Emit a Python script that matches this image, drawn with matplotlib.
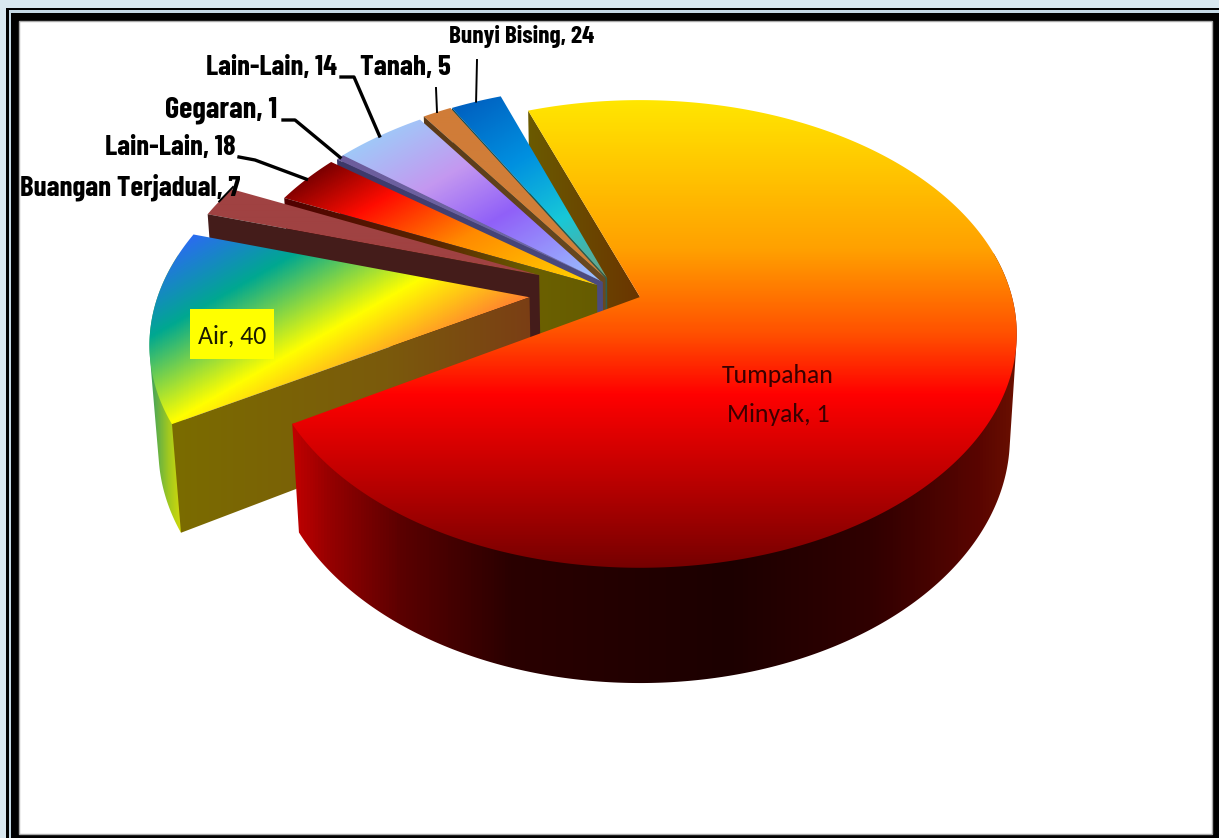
import numpy as np
import matplotlib
matplotlib.use('Agg')
from matplotlib import pyplot as plt
from matplotlib.colors import LinearSegmentedColormap
from matplotlib.patches import Polygon, Rectangle

LABEL_FONT = ['Barlow Condensed', 'Roboto Condensed', 'Liberation Sans Narrow', 'Lato', 'DejaVu Sans']
BODY_FONT = ['Carlito', 'Roboto Condensed', 'Lato', 'DejaVu Sans']

# data: clockwise from the back edge of the big slice
categories = ['Tumpahan Minyak', 'Air', 'Buangan Terjadual', 'Lain-Lain 18',
              'Gegaran', 'Lain-Lain 14', 'Tanah', 'Bunyi Bising']
shares = [72.1, 13.2, 2.14, 3.47, 0.42, 4.67, 1.47, 2.58]
labels = ['Tumpahan\nMinyak, 1', 'Air, 40', 'Buangan Terjadual, 7', 'Lain-Lain, 18',
          'Gegaran, 1', 'Lain-Lain, 14', 'Tanah, 5', 'Bunyi Bising, 24']

# look of the pie
start_angle = 249.8
explode = [0.095, 0.21, 0.197, 0.034, 0.037, 0.037, 0.052, 0.052]
explode_dir = [19.5, 171, 199.5, 218, 252, 247, 265, 270]
tops = [
    ((0, 1), [(0, '#FFE600'), (0.32, '#FFA000'), (0.5, '#FF5000'), (0.63, '#FF0000'), (1, '#760000')]),
    ((0.5, 0.87), [(0, '#2A6CF0'), (0.3, '#00A890'), (0.68, '#FFFF00'), (1, '#FF7F30')]),
    ((0, 1), [(0, '#A04242'), (1, '#A04242')]),
    ((0.5, 0.85), [(0, '#7A0000'), (0.24, '#FF0C00'), (0.55, '#FF8A00'), (1, '#FFD800')]),
    ((0, 1), [(0, '#6C5C9C'), (1, '#6C6CA8')]),
    ((0.5, 0.85), [(0, '#A0C8F8'), (0.29, '#C498F0'), (0.55, '#9060F8'), (1, '#9CC8FF')]),
    ((0, 1), [(0, '#D07C38'), (1, '#D08038')]),
    ((0.5, 0.85), [(0, '#0060C0'), (0.35, '#0090E0'), (0.67, '#18C8D8'), (1, '#70A080')]),
]
faces = [
    ((1, 0), [(0, '#6B5A00'), (1, '#6A3500')]),
    ((1, 0), [(0, '#7B6C00'), (0.6, '#7A5A0C'), (1, '#7A3E15')]),
    ((1, 0), [(0, '#451C1A'), (1, '#451C1A')]),
    ((1, 0), [(0, '#500000'), (0.5, '#5A2800'), (0.8, '#6B6000'), (1, '#665C00')]),
    ((1, 0), [(0, '#3C3868'), (1, '#4C4C80')]),
    ((1, 0), [(0, '#4A3A70'), (1, '#5A5A90')]),
    ((1, 0), [(0, '#5A3A18'), (1, '#6A4A20')]),
    ((1, 0), [(0, '#004A60'), (1, '#306050')]),
]
rims = [
    ((1, 0), [(0, '#C00000'), (0.05, '#950000'), (0.15, '#5A0000'), (0.3, '#2A0000'),
              (0.6, '#1C0000'), (0.8, '#300000'), (0.95, '#5A0500'), (1, '#6A1000')]),
    ((1, 0), [(0, '#3AA060'), (0.5, '#A0C820'), (1, '#E8E000')]),
    ((1, 0), [(0, '#451C1A'), (1, '#451C1A')]),
    ((1, 0), [(0, '#500000'), (1, '#500000')]),
    ((1, 0), [(0, '#3C3868'), (1, '#3C3868')]),
    ((1, 0), [(0, '#4A3A70'), (1, '#4A3A70')]),
    ((1, 0), [(0, '#5A3A18'), (1, '#5A3A18')]),
    ((1, 0), [(0, '#004A60'), (1, '#004A60')]),
]
# label anchor, then elbow of the leader line (pixels of the figure)
leaders = {
    2: ((233, 187), None),
    3: ((239, 157), (255, 160)),
    4: ((283, 120), (295, 120)),
    5: ((341, 77), (354, 77)),
    6: ((436, 88), None),
    7: ((477, 60), None),
}
label_pos = {
    2: (130, 187, 20.9), 3: (170, 148, 20.7), 4: (221, 110, 21.8),
    5: (272, 67, 20.6), 6: (405, 68, 21.1), 7: (522, 37, 18.2),
}

W, H = 1219, 838
CX, CY, RX, RY = 640, 297, 372, 228
TILT, SHRINK, DEPTH = 0.158, 0.018, 104


def project(c, s, h=0.0):
    w = 1 - TILT * s + SHRINK * h
    return CX + RX * c / w, CY + (RY * s + DEPTH * h) / w


def hull(pts):
    pts = sorted(set(pts))

    def half(seq):
        out = []
        for p in seq:
            while len(out) > 1 and ((out[-1][0] - out[-2][0]) * (p[1] - out[-2][1])
                                    - (out[-1][1] - out[-2][1]) * (p[0] - out[-2][0])) <= 0:
                out.pop()
            out.append(p)
        return out[:-1]
    return half(pts) + half(pts[::-1])


def gradient_poly(ax, pts, grad, z):
    (dx, dy), stops = grad
    pts = np.asarray(pts)
    x0, y0 = np.floor(pts.min(axis=0)) - 2
    x1, y1 = np.ceil(pts.max(axis=0)) + 2
    xs, ys = np.meshgrid(np.arange(x0, x1 + 1), np.arange(y0, y1 + 1))
    proj = pts[:, 0] * dx + pts[:, 1] * dy
    t = (xs * dx + ys * dy - proj.min()) / max(proj.max() - proj.min(), 1)
    cmap = LinearSegmentedColormap.from_list('g', stops)
    im = ax.imshow(cmap(np.clip(t, 0, 1)), extent=(x0, x1 + 1, y1 + 1, y0), aspect='auto',
                   interpolation='bilinear', zorder=z)
    im.set_clip_path(Polygon(pts, closed=True, transform=ax.transData))


fig = plt.figure(figsize=(W / 100, H / 100), dpi=100, facecolor='#D8E7EF')
ax = fig.add_axes([0, 0, 1, 1])
ax.set_axis_off()
ax.autoscale(False)
ax.set_xlim(0, W)
ax.set_ylim(H, 0)

# frame
ax.add_patch(Rectangle((6, 8), W, H, fc='black', ec='none', zorder=1))
ax.add_patch(Rectangle((9, 10), W, H, fc='#C4D8E4', ec='none', zorder=1.1))
ax.add_patch(Rectangle((11, 13), W, H, fc='black', ec='none', zorder=1.2))
ax.add_patch(Rectangle((19, 21), 1212 - 19, 834 - 21, fc='white', ec='#AAAAAA', lw=1, zorder=1.3))

# angles and slice centres from the shares
total = sum(shares)
spans = [v / total * 360 for v in shares]
starts = [start_angle + sum(spans[:i]) for i in range(len(spans))]
mids = [a + b / 2 for a, b in zip(starts, spans)]
ox = -explode[0] * np.cos(np.radians(explode_dir[0]))
oy = -explode[0] * np.sin(np.radians(explode_dir[0]))
apex = [(ox + e * np.cos(np.radians(d)), oy + e * np.sin(np.radians(d))) for e, d in zip(explode, explode_dir)]


def rim_pt(i, deg, h=0.0):
    a = np.radians(deg)
    return project(apex[i][0] + np.cos(a), apex[i][1] + np.sin(a), h)


def draw_face(i, z):
    pts = [project(apex[i][0], apex[i][1]), rim_pt(i, starts[i]), rim_pt(i, starts[i], 1),
           project(apex[i][0], apex[i][1], 1)]
    gradient_poly(ax, pts, faces[i], z)


def draw_rim_top(i, z):
    th = np.linspace(starts[i], starts[i] + spans[i], max(int(spans[i] * 2), 8))
    front = [t for t in th if np.sin(np.radians(t)) > -0.2]
    if len(front) > 1:
        band = [rim_pt(i, t) for t in front] + [rim_pt(i, t, 1) for t in front]
        gradient_poly(ax, hull(band), rims[i], z)
    gradient_poly(ax, [project(apex[i][0], apex[i][1])] + [rim_pt(i, t) for t in th], tops[i], z + 0.2)


# back to front: cut face of the big slice, small slices, then the big slice
z = 2
draw_face(0, z)
for i in range(len(shares) - 1, 0, -1):
    z += 1
    draw_rim_top(i, z)
    draw_face(i, z + 0.4)
draw_rim_top(0, z + 1)

# labels
for i, (x, y, size) in label_pos.items():
    ax.text(x, y, labels[i], ha='center', va='center', fontsize=size, fontweight='bold',
            family=LABEL_FONT, color='black', zorder=30)
for i, (start, elbow) in leaders.items():
    end = rim_pt(i, mids[i])
    path = [start] + ([elbow] if elbow else []) + [end]
    ax.plot([p[0] for p in path], [p[1] for p in path], color='black',
            lw=2.4 if elbow else 1.4, zorder=29)
ax.add_patch(Rectangle((190, 309), 84, 50, fc='#FFFF00', ec='none', zorder=29))
ax.text(232, 336, labels[1], ha='center', va='center', fontsize=18.6, color='#1A1A00',
        family=BODY_FONT, zorder=30)
ax.text(778, 395, labels[0], ha='center', va='center', fontsize=18.5, color='#3A0000',
        family=BODY_FONT, linespacing=1.85, zorder=30)

fig.savefig('out.png', dpi=100, facecolor=fig.get_facecolor())
